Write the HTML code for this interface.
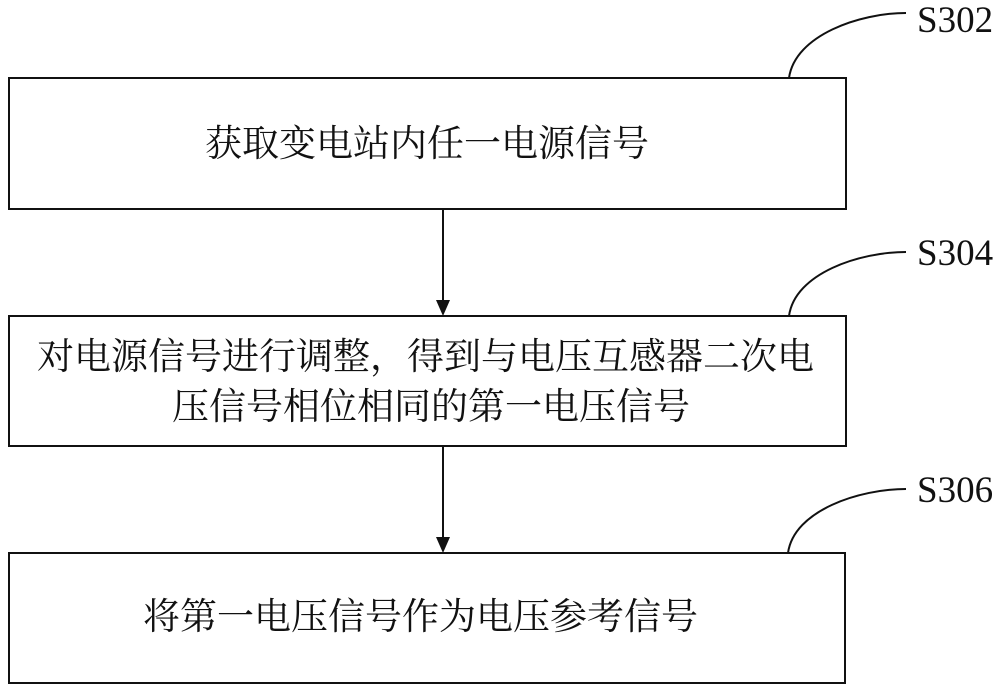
<!DOCTYPE html>
<html><head><meta charset="utf-8"><style>
body{margin:0;width:1000px;height:692px;background:#fff;position:relative;overflow:hidden}
.t{position:absolute;font-family:"Liberation Serif","Noto Serif CJK SC","Noto Sans CJK SC",serif;font-size:37px;color:#111;white-space:nowrap;line-height:50px}
.s{position:absolute;font-family:"Liberation Serif",serif;font-size:37px;color:#111;line-height:37px}
</style></head><body>
<svg width="1000" height="692" style="position:absolute;left:0;top:0">
<g fill="none" stroke="#111" stroke-width="2">
<rect x="9" y="78" width="837" height="131"/>
<rect x="9" y="316" width="837" height="130"/>
<rect x="9" y="553" width="836" height="130"/>
<path d="M789 78 C795 35 860 13 906 13"/>
<path d="M789 316 C795 273 860 252 906 252"/>
<path d="M788 553 C794 510 860 489 906 489"/>
<line x1="443" y1="209" x2="443" y2="302"/>
<line x1="443" y1="446" x2="443" y2="539"/>
</g>
<polygon points="436,300 450,300 443,316" fill="#111"/>
<polygon points="436,537 450,537 443,553" fill="#111"/>
</svg>
<div class="s" style="left:917px;top:2px">S302</div>
<div class="s" style="left:917px;top:235px">S304</div>
<div class="s" style="left:917px;top:472px">S306</div>
<div class="t" style="left:205px;top:120px">获取变电站内任一电源信号</div>
<div class="t" style="left:37px;top:333px">对电源信号进行调整，得到与电压互感器二次电</div>
<div class="t" style="left:172px;top:383px">压信号相位相同的第一电压信号</div>
<div class="t" style="left:143px;top:593px">将第一电压信号作为电压参考信号</div>
</body></html>
